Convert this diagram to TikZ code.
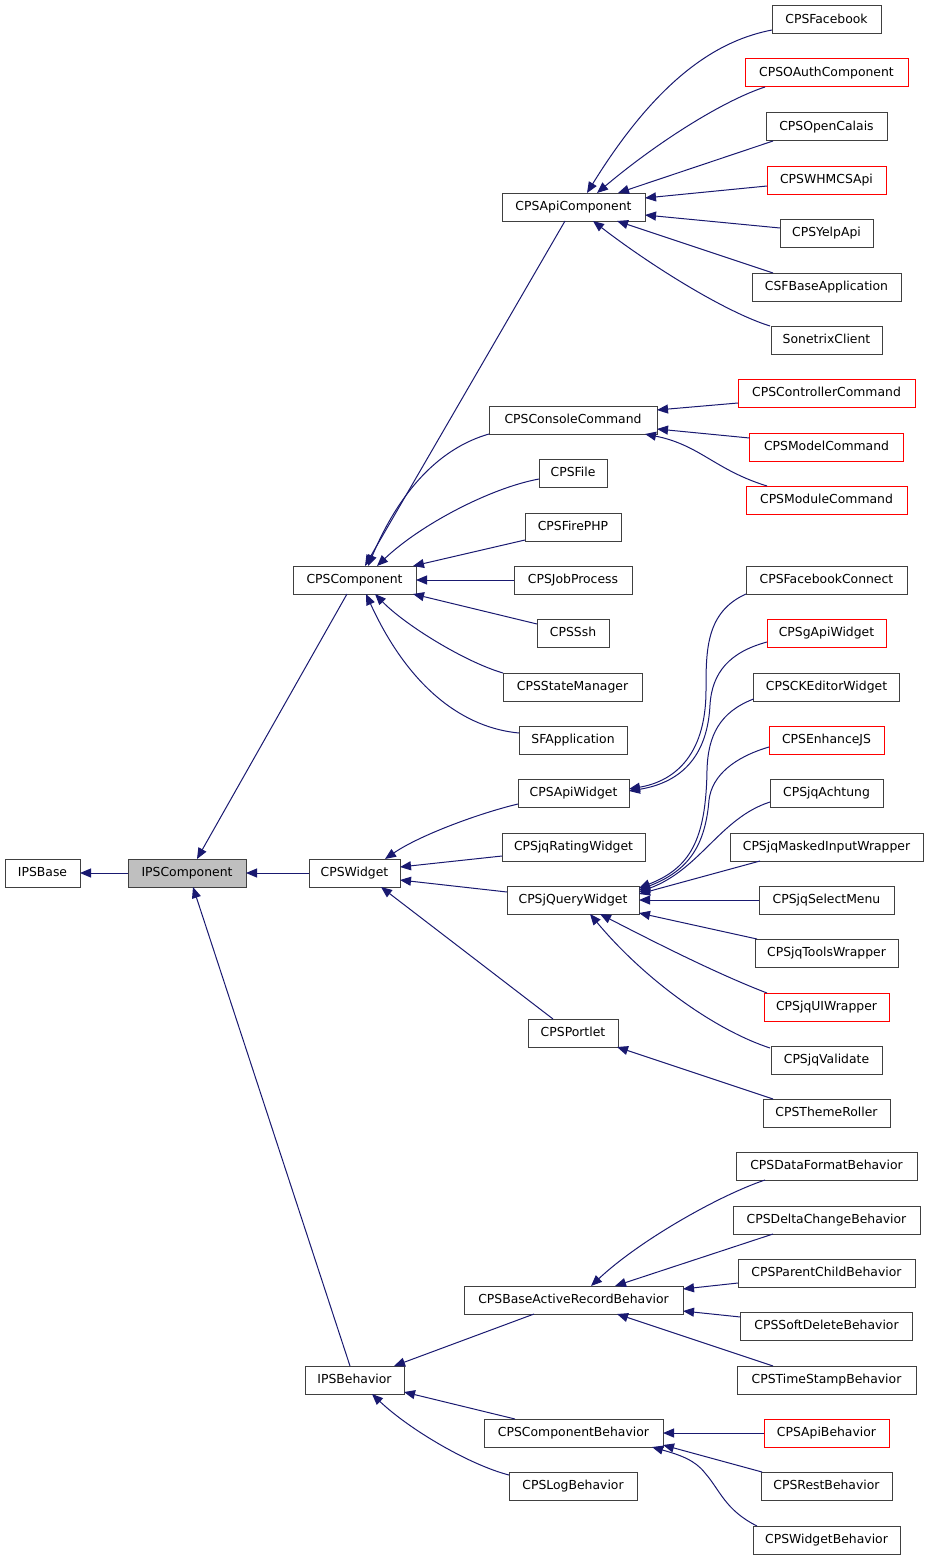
\documentclass[tikz,border=0pt]{standalone}
\usepackage{fontspec}
\setmainfont{DejaVu Sans}
\usetikzlibrary{arrows.meta,calc}
\definecolor{edgeblue}{HTML}{191970}
\definecolor{boxgray}{HTML}{404040}
\definecolor{focusfill}{HTML}{BFBFBF}
\definecolor{undocred}{HTML}{FF0000}
\tikzset{
  cls/.style={draw=boxgray, line width=1pt, fill=white, inner sep=0pt, outer sep=0pt,
    minimum height=28pt, text height=9.6pt, text depth=3pt,
    font=\fontsize{12.4}{14}\selectfont},
  undoc/.style={cls, draw=undocred},
  focus/.style={cls, fill=focusfill},
  inh/.style={draw=edgeblue, line width=1pt, -{Triangle[length=11pt,width=9pt]}},
}
\begin{document}
\begin{tikzpicture}[x=1pt,y=-1pt]
\useasboundingbox (0,0) rectangle (928,1560);
% left columns
\node[cls, minimum width=75pt] (ipsbase) at (42.5,873) {IPSBase};
\node[focus, minimum width=118pt] (ipscomp) at (187,873) {IPSComponent};
\node[cls, minimum width=123pt] (cpscomp) at (354.5,580) {CPSComponent};
\node[cls, minimum width=91pt] (cpswidget) at (354.5,873) {CPSWidget};
\node[cls, minimum width=99pt] (ipsbeh) at (354.5,1380) {IPSBehavior};
% middle column
\node[cls, minimum width=143pt] (apicomp) at (573.5,207) {CPSApiComponent};
\node[cls, minimum width=168pt] (consolecmd) at (573,420) {CPSConsoleCommand};
\node[cls, minimum width=68pt] (file) at (573,473) {CPSFile};
\node[cls, minimum width=96pt] (firephp) at (573,527) {CPSFirePHP};
\node[cls, minimum width=118pt] (jobproc) at (573,580) {CPSJobProcess};
\node[cls, minimum width=72pt] (ssh) at (573,633) {CPSSsh};
\node[cls, minimum width=139pt] (statemgr) at (572.5,687) {CPSStateManager};
\node[cls, minimum width=108pt] (sfapp) at (573,740) {SFApplication};
\node[cls, minimum width=111pt] (apiwidget) at (573.5,793) {CPSApiWidget};
\node[cls, minimum width=143pt] (rating) at (573.5,847) {CPSjqRatingWidget};
\node[cls, minimum width=132pt] (jqwidget) at (573,900) {CPSjQueryWidget};
\node[cls, minimum width=90pt] (portlet) at (573,1033) {CPSPortlet};
\node[cls, minimum width=219pt] (baseactive) at (573.5,1300) {CPSBaseActiveRecordBehavior};
\node[cls, minimum width=179pt] (compbeh) at (573.5,1433) {CPSComponentBehavior};
\node[cls, minimum width=128pt] (logbeh) at (573,1486) {CPSLogBehavior};
% right column
\node[cls, minimum width=109pt] (facebook) at (826.5,20) {CPSFacebook};
\node[undoc, minimum width=163pt] (oauth) at (826.5,73) {CPSOAuthComponent};
\node[cls, minimum width=121pt] (opencalais) at (826.5,127) {CPSOpenCalais};
\node[undoc, minimum width=119pt] (whmcs) at (826.5,180) {CPSWHMCSApi};
\node[cls, minimum width=93pt] (yelp) at (826.5,233) {CPSYelpApi};
\node[cls, minimum width=149pt] (csfbase) at (826.5,287) {CSFBaseApplication};
\node[cls, minimum width=111pt] (sonetrix) at (826.5,340) {SonetrixClient};
\node[undoc, minimum width=177pt] (controller) at (826.5,393) {CPSControllerCommand};
\node[undoc, minimum width=154pt] (model) at (826.5,447) {CPSModelCommand};
\node[undoc, minimum width=161pt] (module) at (826.5,500) {CPSModuleCommand};
\node[cls, minimum width=161pt] (fbconnect) at (826.5,580) {CPSFacebookConnect};
\node[undoc, minimum width=119pt] (gapi) at (826.5,633) {CPSgApiWidget};
\node[cls, minimum width=146pt] (ckeditor) at (826.5,687) {CPSCKEditorWidget};
\node[undoc, minimum width=115pt] (enhancejs) at (826.5,740) {CPSEnhanceJS};
\node[cls, minimum width=113pt] (achtung) at (826.5,793) {CPSjqAchtung};
\node[cls, minimum width=193pt] (masked) at (826.5,847) {CPSjqMaskedInputWrapper};
\node[cls, minimum width=135pt] (selectmenu) at (826.5,900) {CPSjqSelectMenu};
\node[cls, minimum width=143pt] (tools) at (826.5,953) {CPSjqToolsWrapper};
\node[undoc, minimum width=125pt] (uiwrapper) at (826.5,1007) {CPSjqUIWrapper};
\node[cls, minimum width=111pt] (validate) at (826.5,1060) {CPSjqValidate};
\node[cls, minimum width=127pt] (themeroller) at (826.5,1113) {CPSThemeRoller};
\node[cls, minimum width=181pt] (dataformat) at (826.5,1166) {CPSDataFormatBehavior};
\node[cls, minimum width=187pt] (deltachange) at (826.5,1220) {CPSDeltaChangeBehavior};
\node[cls, minimum width=177pt] (parentchild) at (826.5,1273) {CPSParentChildBehavior};
\node[cls, minimum width=172pt] (softdelete) at (826.5,1326) {CPSSoftDeleteBehavior};
\node[cls, minimum width=179pt] (timestamp) at (826.5,1380) {CPSTimeStampBehavior};
\node[undoc, minimum width=125pt] (apibeh) at (826.5,1433) {CPSApiBehavior};
\node[cls, minimum width=131pt] (restbeh) at (826.5,1486) {CPSRestBehavior};
\node[cls, minimum width=147pt] (widgetbeh) at (826.5,1540) {CPSWidgetBehavior};

% edges (child -> parent, arrow at parent)
\draw[inh] (ipscomp.west) -- (ipsbase.east);
\draw[inh] ($(cpscomp)+(-7.5,14)$) -- ($(ipscomp)+(10,-14)$);
\draw[inh] (cpswidget.west) -- (ipscomp.east);
\draw[inh] ($(ipsbeh)+(-4.5,-14)$) -- ($(ipscomp)+(6,14)$);

% CPSComponent children
\draw[inh] ($(apicomp)+(-8.5,14)$) -- ($(cpscomp)+(10.5,-14)$);
\draw[inh] ($(consolecmd)+(-84,14)$) .. controls (440,448) and (400,490) .. ($(cpscomp)+(13.5,-14)$);
\draw[inh] ($(file)+(-34,6)$) .. controls (490,488) and (420,525) .. ($(cpscomp)+(22.5,-14)$);
\draw[inh] ($(firephp)+(-48,13)$) -- ($(cpscomp)+(58.5,-14)$);
\draw[inh] (jobproc.west) -- (cpscomp.east);
\draw[inh] ($(ssh)+(-36,-9)$) -- ($(cpscomp)+(58.5,14)$);
\draw[inh] ($(statemgr)+(-69.5,-14)$) .. controls (465,662) and (405,625) .. ($(cpscomp)+(20.5,14)$);
\draw[inh] ($(sfapp)+(-54,-7)$) .. controls (465,728) and (410,690) .. ($(cpscomp)+(11.5,14)$);

% CPSApiComponent children
\draw[inh] ($(facebook)+(-54.5,10)$) .. controls (720,40) and (660,75) .. ($(apicomp)+(13.5,-14)$);
\draw[inh] ($(oauth)+(-61.5,14)$) .. controls (725,100) and (660,140) .. ($(apicomp)+(23.5,-14)$);
\draw[inh] ($(opencalais)+(-53.5,14)$) -- ($(apicomp)+(44.5,-14)$);
\draw[inh] ($(whmcs)+(-59.5,6)$) -- ($(apicomp)+(71.5,-9)$);
\draw[inh] ($(yelp)+(-46.5,-5)$) -- ($(apicomp)+(71.5,8)$);
\draw[inh] ($(csfbase)+(-53.5,-14)$) -- ($(apicomp)+(43.5,14)$);
\draw[inh] ($(sonetrix)+(-56.5,-14)$) .. controls (725,312) and (650,265) .. ($(apicomp)+(19.5,14)$);

% CPSConsoleCommand children
\draw[inh] ($(controller)+(-88.5,10)$) -- ($(consolecmd)+(84,-10)$);
\draw[inh] ($(model)+(-77,-9)$) -- ($(consolecmd)+(84,9)$);
\draw[inh] ($(module)+(-59.5,-14)$) .. controls (715,470) and (700,445) .. ($(consolecmd)+(72,14)$);

% CPSWidget children
\draw[inh] ($(apiwidget)+(-55.5,11)$) .. controls (480,813) and (420,835) .. ($(cpswidget)+(30.5,-14)$);
\draw[inh] ($(rating)+(-71.5,9)$) -- ($(cpswidget)+(45.5,-6)$);
\draw[inh] ($(jqwidget)+(-66,-8)$) -- ($(cpswidget)+(45.5,7)$);
\draw[inh] ($(portlet)+(-20,-14)$) -- ($(cpswidget)+(26.5,14)$);

% CPSApiWidget children
\draw[inh] ($(fbconnect)+(-80.5,14)$) .. controls (706,612) and (706,650) .. (706,690)
  .. controls (706,760) and (670,782) .. ($(apiwidget)+(55.5,-4)$);
\draw[inh] ($(gapi)+(-59.5,9)$) .. controls (730,652) and (712,672) .. (710,705)
  .. controls (707,765) and (672,784) .. ($(apiwidget)+(55.5,-2)$);

% CPSjQueryWidget children
\draw[inh] ($(ckeditor)+(-73,12)$) .. controls (720,712) and (708,735) .. (707,770)
  .. controls (706,840) and (690,868) .. ($(jqwidget)+(66,-12)$);
\draw[inh] ($(enhancejs)+(-57.5,7)$) .. controls (735,757) and (712,775) .. (709,800)
  .. controls (705,850) and (685,872) .. ($(jqwidget)+(66,-10)$);
\draw[inh] ($(achtung)+(-56.5,9)$) .. controls (720,818) and (700,870) .. ($(jqwidget)+(66,-8)$);
\draw[inh] ($(masked)+(-66.5,14)$) -- ($(jqwidget)+(66,-6)$);
\draw[inh] (selectmenu.west) -- (jqwidget.east);
\draw[inh] ($(tools)+(-69.5,-14)$) -- ($(jqwidget)+(66,13)$);
\draw[inh] ($(uiwrapper)+(-59.5,-14)$) .. controls (720,975) and (660,945) .. ($(jqwidget)+(27,14)$);
\draw[inh] ($(validate)+(-56.5,-12)$) .. controls (715,1030) and (645,980) .. ($(jqwidget)+(17,14)$);

% CPSPortlet child
\draw[inh] ($(themeroller)+(-53.5,-14)$) -- ($(portlet)+(44,14)$);

% IPSBehavior children
\draw[inh] ($(baseactive)+(-39.5,14)$) -- ($(ipsbeh)+(39.5,-14)$);
\draw[inh] ($(compbeh)+(-58.5,-14)$) -- ($(ipsbeh)+(49.5,12)$);
\draw[inh] ($(logbeh)+(-64,-11)$) .. controls (470,1465) and (410,1430) .. ($(ipsbeh)+(17.5,14)$);

% CPSBaseActiveRecordBehavior children
\draw[inh] ($(dataformat)+(-61.5,14)$) .. controls (720,1195) and (640,1240) .. ($(baseactive)+(17.5,-14)$);
\draw[inh] ($(deltachange)+(-53.5,14)$) -- ($(baseactive)+(41.5,-14)$);
\draw[inh] ($(parentchild)+(-88.5,10)$) -- ($(baseactive)+(109.5,-11)$);
\draw[inh] ($(softdelete)+(-86,-9)$) -- ($(baseactive)+(109.5,11)$);
\draw[inh] ($(timestamp)+(-53.5,-14)$) -- ($(baseactive)+(43.5,14)$);

% CPSComponentBehavior children
\draw[inh] (apibeh.west) -- (compbeh.east);
\draw[inh] ($(restbeh)+(-64.5,-14)$) -- ($(compbeh)+(89.5,12)$);
\draw[inh] ($(widgetbeh)+(-69.5,-14)$) .. controls (725,1510) and (720,1490) .. (705,1473)
  .. controls (695,1460) and (680,1455) .. ($(compbeh)+(78.5,14)$);
\end{tikzpicture}
\end{document}
